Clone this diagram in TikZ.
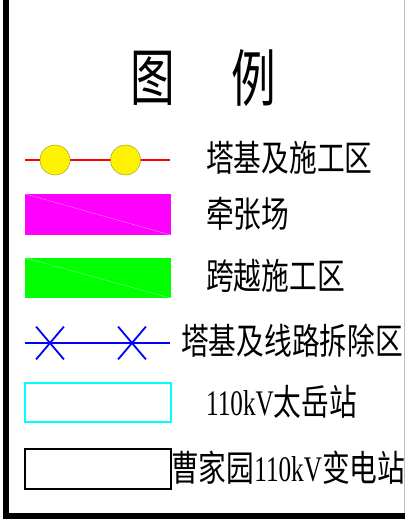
\documentclass[tikz,border=0pt]{standalone}
\usepackage{fontspec}
\setmainfont{Liberation Serif}[FakeStretch=0.7]
\newfontfamily\cjk{Noto Sans CJK SC}[FakeStretch=0.77]
\newfontfamily\cjktitle{Noto Sans CJK SC}[FakeStretch=0.72]
\usetikzlibrary{shapes.misc}
\definecolor{mygreen}{RGB}{0,255,0}
\definecolor{mycyan}{RGB}{0,255,255}
\definecolor{mymag}{RGB}{255,0,255}
\definecolor{circedge}{RGB}{170,160,40}
\begin{document}
\begin{tikzpicture}[x=1pt,y=-1pt,
  lbl/.style={anchor=west,inner sep=0pt,font=\fontsize{36}{40}\selectfont},
  ttl/.style={inner sep=0pt,font=\fontsize{62}{66}\selectfont\cjktitle},
  swatch/.style={rectangle,inner sep=0pt,minimum width=146pt,minimum height=#1},
  diag/.style={line width=0.3pt,draw=white,opacity=0.6},
  tower/.style={circle,fill=yellow,draw=circedge,line width=0.5pt,minimum size=30pt,inner sep=0pt},
  xmark/.style={cross out,draw=blue,line width=1.8pt,minimum width=26pt,minimum height=31pt,inner sep=0pt}]
\useasboundingbox (0,0) rectangle (405,519);
\fill[white] (0,0) rectangle (405,519);
% frame
\coordinate (fl1) at (6,0);
\coordinate (fl2) at (6,516);
\coordinate (fb2) at (405,516);
\coordinate (fr1) at (404.5,0);
\coordinate (fr2) at (404.5,513);
\draw[black,line width=6pt] (fl1) -- (fl2) -- (fb2);
\draw[gray!50,line width=1pt] (fr1) -- (fr2);
% title
\node[ttl] (tt1) at (153,78) {图};
\node[ttl] (tt2) at (253.5,78) {例};
% row 1
\coordinate (r1a) at (25,160);
\coordinate (r1b) at (170,160);
\draw[red,line width=1.3pt] (r1a) -- (r1b);
\node[tower] (c1) at (55,160) {};
\node[tower] (c2) at (125.5,160) {};
\node[lbl] (t1) at (206,158) {\cjk 塔基及施工区};
% row 2
\node[swatch=41pt,fill=mymag] (m) at (98,214.5) {};
\draw[diag] (m.north west) -- (m.south east);
\node[lbl] (t2) at (206,214) {\cjk 牵张场};
% row 3
\node[swatch=40pt,fill=mygreen] (g) at (98,278) {};
\draw[diag] (g.north west) -- (g.south east);
\node[lbl] (t3) at (206,276) {\cjk 跨越施工区};
% row 4
\coordinate (r4a) at (25,343);
\coordinate (r4b) at (170,343);
\draw[blue,line width=1.6pt] (r4a) -- (r4b);
\node[xmark] (x1) at (50,343) {};
\node[xmark] (x2) at (132,343) {};
\node[lbl] (t4) at (181,341) {\cjk 塔基及线路拆除区};
% row 5
\node[swatch=39pt,draw=mycyan,line width=1.5pt] (cy) at (98.2,402.5) {};
\node[lbl] (t5) at (206,402) {110kV{\cjk 太岳站}};
% row 6
\node[swatch=40pt,draw=black,line width=2pt] (bk) at (98.2,469) {};
\node[lbl] (t6) at (171,468) {{\cjk 曹家园}110kV{\cjk 变电站}};
\end{tikzpicture}
\end{document}
